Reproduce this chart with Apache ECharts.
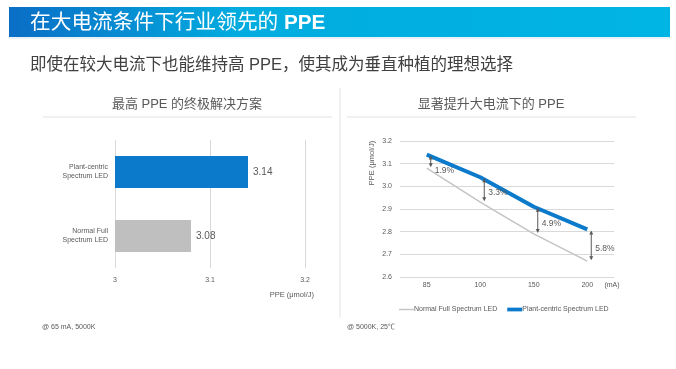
<!DOCTYPE html>
<html>
<head>
<meta charset="utf-8">
<script src="https://cdn.jsdelivr.net/npm/echarts@6/dist/echarts.min.js"></script>
<style>
html,body{margin:0;padding:0;background:#fff;}
#c{width:676px;height:369px;}
</style>
</head>
<body>
<div id="c"></div>
<script>
// ---- data ----
var barCategories = ['Normal Full\nSpectrum LED', 'Plant-centric\nSpectrum LED'];
var barValues = [3.08, 3.14];
var currentCategories = ['85', '100', '150', '200'];
var normalPPE = [3.08, 2.93, 2.79, 2.67];
var plantPPE = [3.14, 3.04, 2.91, 2.81];
var gainLabels = ['1.9%', '3.3%', '4.9%', '5.8%'];
var seriesNames = ['Normal Full Spectrum LED', 'Plant-centric Spectrum LED'];

var FONT = '"Liberation Sans", "Noto Sans CJK SC", sans-serif';
var GREY_TXT = '#595959';
var BLUE = '#0b7acb';
var GREY_BAR = '#bfbfbf';
var GREY_LINE = '#c4c4c4';

var chart = echarts.init(document.getElementById('c'), null, {renderer: 'canvas'});

var arrowData = currentCategories.map(function (c, i) {
  return [i, normalPPE[i], plantPPE[i], gainLabels[i]];
});

function renderArrow(params, api) {
  var idx = api.value(0);
  var pLow = api.coord([idx, api.value(1)]);
  var pHigh = api.coord([idx, api.value(2)]);
  var x = pLow[0] + 4;
  var yTop = pHigh[1] + 1;
  var yBot = pLow[1] - 1;
  var len = yBot - yTop;
  var mid = (yTop + yBot) / 2;
  var label = arrowData[params.dataIndex][3];
  var ly = len < 20 ? pLow[1] + 2 : mid + 3;
  var col = '#595959';
  return {
    type: 'group',
    children: [
      {type: 'line', shape: {x1: x, y1: yTop + 3, x2: x, y2: yBot - 3}, style: {stroke: col, lineWidth: 1}},
      {type: 'polygon', shape: {points: [[x, yTop], [x - 2, yTop + 4], [x + 2, yTop + 4]]}, style: {fill: col}},
      {type: 'polygon', shape: {points: [[x, yBot], [x - 2, yBot - 4], [x + 2, yBot - 4]]}, style: {fill: col}},
      {type: 'text', x: x + 4, y: ly, style: {text: label, fill: GREY_TXT, font: '8.5px ' + FONT, textAlign: 'left', textVerticalAlign: 'middle'}}
    ]
  };
}

function txt(x, y, text, size, color, align, extra) {
  var o = {type: 'text', x: x, y: y, silent: true,
    style: {text: text, fill: color, font: size + 'px ' + FONT, textAlign: align || 'left', textVerticalAlign: 'middle'}};
  if (extra) for (var k in extra) o[k] = extra[k];
  return o;
}

var option = {
  backgroundColor: '#ffffff',
  animation: false,
  textStyle: {fontFamily: FONT},
  graphic: [
    {type: 'rect', shape: {x: 9, y: 7, width: 661, height: 30}, silent: true,
      style: {fill: {type: 'linear', x: 0, y: 0, x2: 1, y2: 0, colorStops: [
        {offset: 0, color: '#0a6ec6'}, {offset: 0.35, color: '#02acdf'}, {offset: 1, color: '#00b4e3'}]}}},
    {type: 'rect', shape: {x: 9, y: 37.5, width: 661, height: 1}, silent: true, style: {fill: '#d5e6ef'}},
    {type: 'text', x: 30, y: 23, silent: true, style: {
      text: '{a|在大电流条件下行业领先的 }{b|PPE}', textVerticalAlign: 'middle', fill: '#ffffff',
      rich: {a: {font: '20.7px ' + FONT, fill: '#ffffff'}, b: {font: 'bold 20.7px ' + FONT, fill: '#ffffff'}}}},
    txt(30, 65, '即使在较大电流下也能维持高 PPE，使其成为垂直种植的理想选择', 16.5, '#404040'),
    txt(187, 104, '最高 PPE 的终极解决方案', 13, GREY_TXT, 'center'),
    txt(491, 104, '显著提升大电流下的 PPE', 13, GREY_TXT, 'center'),
    {type: 'rect', shape: {x: 43, y: 116.5, width: 289, height: 1}, silent: true, style: {fill: '#e2e2e2'}},
    {type: 'rect', shape: {x: 347, y: 116.5, width: 289, height: 1}, silent: true, style: {fill: '#e2e2e2'}},
    {type: 'rect', shape: {x: 339.5, y: 88, width: 1, height: 230}, silent: true, style: {fill: '#e6e6e6'}},
    txt(314, 295, 'PPE (μmol/J)', 7.5, GREY_TXT, 'right'),
    txt(372, 163, 'PPE (μmol/J)', 7.5, GREY_TXT, 'center', {rotation: Math.PI / 2}),
    txt(612, 285, '(mA)', 7, GREY_TXT, 'center'),
    txt(42, 327, '@ 65 mA, 5000K', 7, GREY_TXT),
    txt(347, 327, '@ 5000K, 25℃', 7, GREY_TXT)
  ],
  legend: {
    left: 394, top: 301,
    itemWidth: 15, itemHeight: 10, itemGap: 10, symbolKeepAspect: true,
    textStyle: {fontSize: 7, color: GREY_TXT, fontFamily: FONT, padding: [0, 0, 0, -5]},
    data: [
      {name: seriesNames[0], icon: 'path://M0,0h16v1.5h-16z', itemStyle: {color: GREY_LINE}},
      {name: seriesNames[1], icon: 'path://M0,0h16v4h-16z', itemStyle: {color: BLUE}}
    ]
  },
  grid: [
    {left: 115, width: 190, top: 140, height: 128, containLabel: false},
    {left: 400, width: 214, top: 141, height: 136, containLabel: false}
  ],
  xAxis: [
    {type: 'value', gridIndex: 0, min: 3, max: 3.2, interval: 0.1,
      axisLine: {show: false}, axisTick: {show: false},
      splitLine: {lineStyle: {color: '#d9d9d9'}},
      axisLabel: {fontSize: 7, color: GREY_TXT, margin: 9, formatter: function (v) { return String(+v.toFixed(1)); }}},
    {type: 'category', gridIndex: 1, data: currentCategories, boundaryGap: true,
      axisLine: {show: false}, axisTick: {show: false},
      axisLabel: {fontSize: 7, color: GREY_TXT, margin: 5}}
  ],
  yAxis: [
    {type: 'category', gridIndex: 0, data: barCategories,
      axisLine: {show: false}, axisTick: {show: false},
      axisLabel: {fontSize: 7, lineHeight: 9, color: GREY_TXT, margin: 7}},
    {type: 'value', gridIndex: 1, min: 2.6, max: 3.2, interval: 0.1,
      axisLine: {show: false}, axisTick: {show: false},
      splitLine: {lineStyle: {color: '#d9d9d9'}},
      axisLabel: {fontSize: 7, color: GREY_TXT, margin: 8, formatter: function (v) { return v.toFixed(1); }}}
  ],
  series: [
    {type: 'bar', xAxisIndex: 0, yAxisIndex: 0, barWidth: 32,
      data: barValues.map(function (v, i) { return {value: v, itemStyle: {color: i === 1 ? BLUE : GREY_BAR}}; }),
      label: {show: true, position: 'right', distance: 5, fontSize: 10, color: GREY_TXT,
        formatter: function (p) { return p.value.toFixed(2); }}},
    {type: 'line', name: seriesNames[0], xAxisIndex: 1, yAxisIndex: 1, data: normalPPE,
      symbol: 'none', lineStyle: {width: 1.5, color: GREY_LINE}, itemStyle: {color: GREY_LINE}},
    {type: 'line', name: seriesNames[1], xAxisIndex: 1, yAxisIndex: 1, data: plantPPE,
      symbol: 'none', lineStyle: {width: 4, color: BLUE}, itemStyle: {color: BLUE}},
    {type: 'custom', xAxisIndex: 1, yAxisIndex: 1, data: arrowData, renderItem: renderArrow, z: 5,
      encode: {x: 0, y: [1, 2]}}
  ]
};
chart.setOption(option);
</script>
</body>
</html>
